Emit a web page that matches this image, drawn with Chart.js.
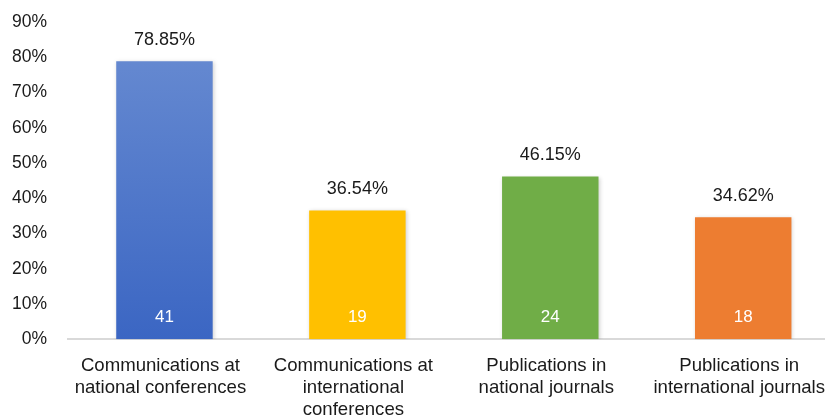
<!DOCTYPE html>
<html>
<head>
<meta charset="utf-8">
<script src="https://cdn.jsdelivr.net/npm/chart.js@4/dist/chart.umd.min.js"></script>
<style>
    html, body { margin: 0; padding: 0; background: #fff; overflow: hidden; }
    #wrap { width: 845px; height: 437px; }
</style>
</head>
<body>
<div id="wrap"><canvas id="shareChart"></canvas></div>
<script>
const categories = [
    ['Communications at', 'national conferences'],
    ['Communications at', 'international', 'conferences'],
    ['Publications in', 'national journals'],
    ['Publications in', 'international journals']
];
const percentages = [78.85, 36.54, 46.15, 34.62];
const counts = [41, 19, 24, 18];
const yTicks = [0, 10, 20, 30, 40, 50, 60, 70, 80, 90];

const barColors = ['#4472C4', '#FFC000', '#70AD47', '#ED7D31'];
const fontFamily = '"Liberation Sans", Arial, Helvetica, sans-serif';

// first bar is drawn with a soft vertical gradient, like the original
const firstBarFill = (context) => {
    const { chart, dataIndex } = context;
    if (dataIndex !== 0 || !chart.chartArea) return barColors[dataIndex];
    const { top, bottom } = chart.chartArea;
    const g = chart.ctx.createLinearGradient(0, top, 0, bottom);
    g.addColorStop(0, '#6a8dd2');
    g.addColorStop(1, '#3b66c3');
    return g;
};

const barLabels = {
    id: 'barLabels',
    beforeDatasetsDraw(chart) {
        chart.ctx.save();
        chart.ctx.shadowColor = 'rgba(0,0,0,0.18)';
        chart.ctx.shadowBlur = 4;
        chart.ctx.shadowOffsetX = 1;
        chart.ctx.shadowOffsetY = 1;
    },
    afterDatasetsDraw(chart) {
        const { ctx } = chart;
        ctx.restore();
        const meta = chart.getDatasetMeta(0);
        const base = chart.scales.y.getPixelForValue(0);
        ctx.save();
        ctx.textAlign = 'center';
        ctx.textBaseline = 'middle';
        meta.data.forEach((bar, i) => {
            ctx.font = `18px ${fontFamily}`;
            ctx.fillStyle = '#1a1a1a';
            ctx.fillText(percentages[i].toFixed(2) + '%', bar.x, bar.y - 21);
            ctx.font = `17px ${fontFamily}`;
            ctx.fillStyle = '#ffffff';
            ctx.fillText(String(counts[i]), bar.x, base - 22);
        });
        ctx.restore();
    }
};

new Chart(document.getElementById('shareChart'), {
    type: 'bar',
    data: {
        labels: categories,
        datasets: [{
            data: percentages,
            backgroundColor: firstBarFill,
            borderWidth: 0,
            barPercentage: 0.5,
            categoryPercentage: 1.0
        }]
    },
    options: {
        responsive: true,
        maintainAspectRatio: false,
        animation: false,
        layout: { padding: { top: 22, left: 0, right: 0, bottom: 0 } },
        plugins: {
            legend: { display: false },
            tooltip: { enabled: false }
        },
        scales: {
            x: {
                grid: { display: false, drawTicks: false },
                border: { display: true, color: '#d9d9d9', width: 2 },
                ticks: {
                    color: '#1a1a1a',
                    font: { family: fontFamily, size: 18.6, lineHeight: 1.18 },
                    padding: 16,
                    labelOffset: -4,
                    maxRotation: 0,
                    autoSkip: false
                }
            },
            y: {
                min: 0,
                max: 90,
                afterBuildTicks: (axis) => { axis.ticks = yTicks.map(v => ({ value: v })); },
                afterFit: (axis) => {
                    axis.width = 68;
                    axis.paddingTop = 0;
                    axis.paddingBottom = 0;
                },
                grid: { display: false, drawTicks: false },
                border: { display: false },
                ticks: {
                    color: '#1a1a1a',
                    font: { family: fontFamily, size: 17.5 },
                    padding: 21,
                    callback: (v) => v + '%'
                }
            }
        }
    },
    plugins: [barLabels]
});
</script>
</body>
</html>
